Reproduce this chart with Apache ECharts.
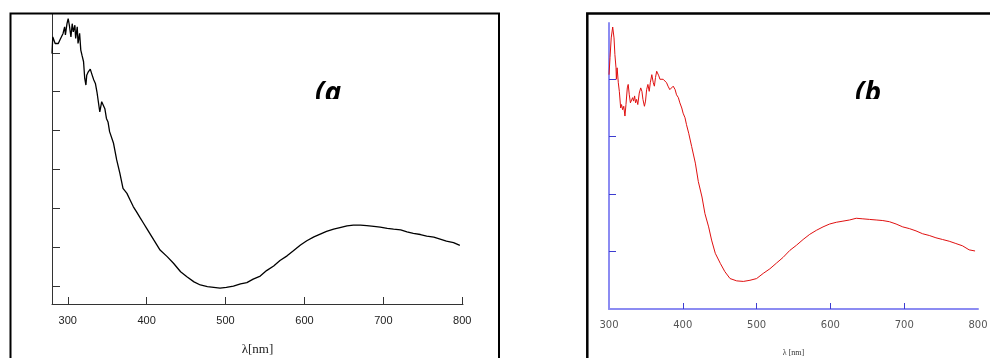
<!DOCTYPE html>
<html>
<head>
<meta charset="utf-8">
<script src="https://cdn.jsdelivr.net/npm/echarts@6/dist/echarts.min.js"></script>
<style>html,body{margin:0;padding:0;background:#fff;}#c{width:990px;height:358px;}</style>
</head>
<body>
<div id="c"></div>
<script>
// Panel (a): wavelength (nm) and absorbance (arbitrary units)
var wlA = [280,281,284,286,288,290,292,294,296,297,299,300.5,302,304,305.6,307,309,310,312,313,315,316.5,318,320,321.5,323,324,326,328.5,331,333,335,337,340,340.6,343,344.9,347,349,351,353,358,362,366,370,375,379,383,387,392,396,400,409,417,426,434,443,451,460,468,477,485,493,501,510,519,527,535,544,552,561,569,578,586,595,603,612,620,628,637,645,654,662,671,679,688,696,705,713,722,730,738,747,755,764,772,780,789,797];
var absA = [6.98,7.41,7.24,7.20,7.24,7.33,7.37,7.50,7.67,7.46,7.75,7.88,7.71,7.41,7.75,7.54,7.71,7.37,7.67,7.24,7.50,7.07,6.94,6.77,6.34,6.17,6.42,6.51,6.58,6.42,6.30,6.21,5.99,5.56,5.48,5.74,5.69,5.56,5.31,5.22,4.97,4.67,4.24,3.90,3.51,3.38,3.21,3.04,2.91,2.74,2.61,2.48,2.18,1.92,1.75,1.58,1.36,1.23,1.10,1.02,0.98,0.96,0.94,0.96,0.99,1.05,1.08,1.17,1.25,1.39,1.51,1.65,1.77,1.90,2.05,2.16,2.26,2.33,2.40,2.46,2.50,2.54,2.56,2.56,2.55,2.53,2.51,2.48,2.46,2.44,2.39,2.35,2.32,2.28,2.25,2.20,2.15,2.11,2.04];
var ticksXA = [300,400,500,600,700,800];
var ticksYA = [1,2,3,4,5,6,7];

// Panel (b)
var wlB = [300,301.4,303,305,306.8,308,309.5,310,311,312.6,314,315.8,317,318.5,320,321.6,323,324.8,326,327.5,329,330,332,333.3,334.7,336,337.4,339,341,343,344.6,346,348,349.5,351,352.7,354.5,356,358,360,361.5,363,364.6,366,367.5,369,371.6,373.4,375.7,378,380,382.4,385,387,389.6,391.5,394,396,398.6,400.4,403,405,408,412,417,421,426,430,435,439,444,451,457,464,473,482,491,500,509,518,527,536,545,554,563,572,581,590,599,608,617,626,635,644,653,662,671,680,689,698,707,716,725,734,743,752,761,770,779,788,796];
var absB = [4.08,4.38,4.72,4.91,4.72,4.43,4.20,4.00,4.20,3.94,3.79,3.50,3.56,3.47,3.53,3.36,3.56,3.85,3.91,3.73,3.59,3.56,3.68,3.62,3.71,3.59,3.65,3.56,3.76,3.85,3.79,3.65,3.53,3.62,3.82,3.91,3.79,3.94,4.08,3.94,3.88,4.03,4.14,4.15,4.06,4.00,4.03,4.00,3.97,3.94,3.88,3.82,3.85,3.88,3.82,3.73,3.68,3.59,3.50,3.41,3.33,3.21,3.06,2.83,2.54,2.22,1.95,1.66,1.43,1.20,0.97,0.79,0.65,0.53,0.49,0.48,0.50,0.53,0.62,0.70,0.80,0.90,1.02,1.11,1.21,1.30,1.37,1.43,1.48,1.51,1.53,1.55,1.58,1.57,1.56,1.55,1.54,1.52,1.48,1.43,1.40,1.36,1.31,1.28,1.24,1.21,1.18,1.14,1.10,1.03,1.01];
var ticksXB = [400,500,600,700];
var labelsXB = [300,400,500,600,700,800];
var ticksYB = [1,2,3,4];

function pairs(x, y) { return x.map(function (v, i) { return [v, y[i]]; }); }

var chart = echarts.init(document.getElementById('c'), null, { renderer: 'canvas' });
chart.setOption({
  animation: false,
  backgroundColor: '#fff',
  grid: [
    { left: 52, top: 14, width: 411, height: 290, containLabel: false, outerBoundsMode: 'none' },
    { left: 609, top: 23, width: 369, height: 286, containLabel: false, outerBoundsMode: 'none' }
  ],
  xAxis: [
    {
      gridIndex: 0, type: 'value', min: 280, max: 801,
      name: 'λ[nm]', nameLocation: 'middle', nameGap: 39,
      nameTextStyle: { fontFamily: 'Liberation Serif', fontSize: 13, color: '#222' },
      axisLine: { show: true, lineStyle: { color: '#333', width: 1 } },
      axisTick: { show: true, inside: true, length: 7, customValues: ticksXA, lineStyle: { color: '#333' } },
      axisLabel: { customValues: ticksXA, margin: 11, fontFamily: 'Liberation Sans', fontSize: 11, color: '#222' },
      splitLine: { show: false }
    },
    {
      gridIndex: 1, type: 'value', min: 300, max: 800,
      name: 'λ [nm]', nameLocation: 'middle', nameGap: 40,
      nameTextStyle: { fontFamily: 'Liberation Serif', fontSize: 8, color: '#333' },
      axisLine: { show: true, lineStyle: { color: '#8c8cf2', width: 2 } },
      axisTick: { show: true, inside: true, length: 6, customValues: ticksXB, lineStyle: { color: '#3c3cd0', width: 1 } },
      axisLabel: { customValues: labelsXB, margin: 11, fontFamily: 'DejaVu Sans', fontSize: 10, color: '#555' },
      splitLine: { show: false }
    }
  ],
  yAxis: [
    {
      gridIndex: 0, type: 'value', min: 0.53, max: 8.0,
      axisLine: { show: true, lineStyle: { color: '#333', width: 1 } },
      axisTick: { show: true, inside: true, length: 8, customValues: ticksYA, lineStyle: { color: '#333' } },
      axisLabel: { show: false },
      splitLine: { show: false }
    },
    {
      gridIndex: 1, type: 'value', min: 0, max: 4.98,
      axisLine: { show: true, lineStyle: { color: '#8c8cf2', width: 2 } },
      axisTick: { show: true, inside: true, length: 7, customValues: ticksYB, lineStyle: { color: '#3c3cd0', width: 1 } },
      axisLabel: { show: false },
      splitLine: { show: false }
    }
  ],
  series: [
    {
      type: 'line', xAxisIndex: 0, yAxisIndex: 0, data: pairs(wlA, absA),
      showSymbol: false, symbol: 'none', lineStyle: { color: '#000', width: 1.3 }, z: 3
    },
    {
      type: 'line', xAxisIndex: 1, yAxisIndex: 1, data: pairs(wlB, absB),
      showSymbol: false, symbol: 'none', lineStyle: { color: '#e01010', width: 1 }, z: 3
    }
  ],
  graphic: [
    { type: 'rect', z: 50, shape: { x: 10.5, y: 13.5, width: 488.5, height: 360 },
      style: { fill: 'none', stroke: '#000', lineWidth: 2 } },
    { type: 'rect', z: 50, shape: { x: 587.3, y: 13.5, width: 500, height: 360 },
      style: { fill: 'none', stroke: '#000', lineWidth: 2.5 } },
    { type: 'text', z: 60, x: 315, y: 94,
      style: { text: '(a', fontFamily: 'Noto Sans', fontStyle: 'italic', fontWeight: 'bold', fontSize: 28, fill: '#000', verticalAlign: 'middle', align: 'left' } },
    { type: 'text', z: 60, x: 855, y: 94,
      style: { text: '(b', fontFamily: 'Noto Sans', fontStyle: 'italic', fontWeight: 'bold', fontSize: 28, fill: '#000', verticalAlign: 'middle', align: 'left' } },
    { type: 'rect', z: 61, shape: { x: 305, y: 99, width: 50, height: 18 }, style: { fill: '#fff' } },
    { type: 'rect', z: 61, shape: { x: 845, y: 99, width: 50, height: 18 }, style: { fill: '#fff' } }
  ]
});
</script>
</body>
</html>
